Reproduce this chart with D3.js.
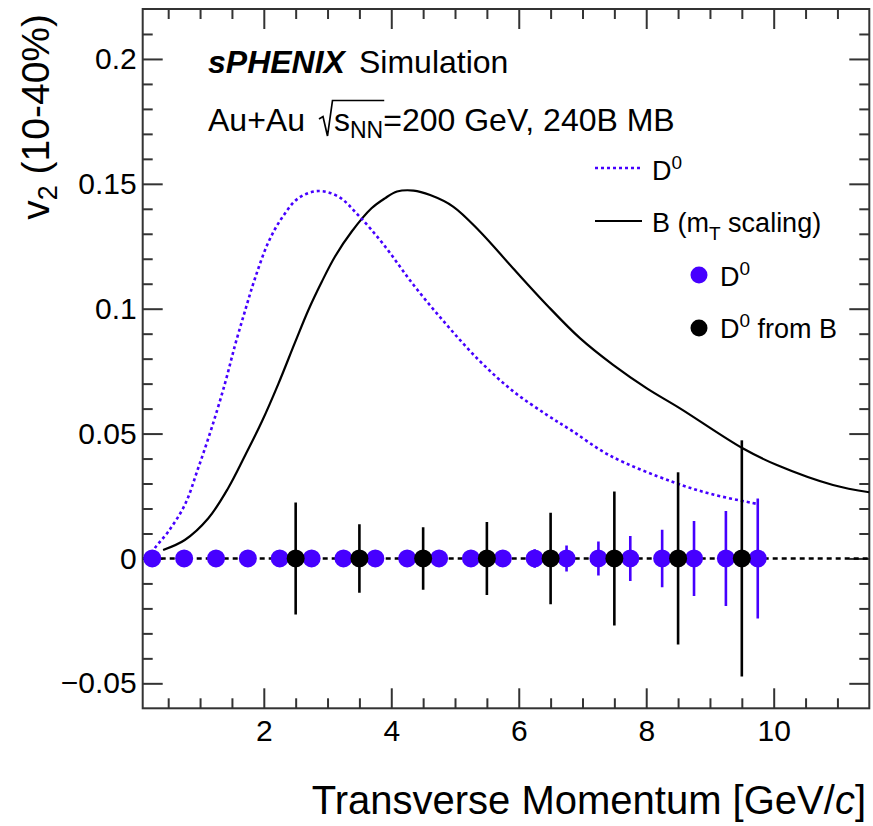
<!DOCTYPE html>
<html>
<head>
<meta charset="utf-8">
<script src="https://cdn.jsdelivr.net/npm/d3@7"></script>
<style>
body { margin: 0; background: #fff; }
svg text { font-family: "Liberation Sans", Arial, Helvetica, sans-serif; fill: #000; }
</style>
</head>
<body>
<div class="chart"></div>
<script>
const WIDTH = 873;
const HEIGHT = 826;
const LEFT = 142.7, RIGHT = 869.3, TOP = 9, BOTTOM = 708.3;
const BLUE = "#4600ff";

// axes
var xDomain = [0.1, 11.5];
var yDomain = [-0.06, 0.22];
var xTicks = [2, 4, 6, 8, 10];
var xTickLabels = ["2", "4", "6", "8", "10"];
var yTicks = [-0.05, 0, 0.05, 0.1, 0.15, 0.2];
var yTickLabels = ["\u22120.05", "0", "0.05", "0.1", "0.15", "0.2"];

// D0 model curve (dotted)
var d0CurveX = [0.25, 0.29, 0.50, 0.76, 0.97, 1.18, 1.39, 1.55, 1.71, 1.86, 2.07, 2.28, 2.54, 2.85,
	3.17, 3.48, 3.87, 4.35, 4.87, 5.39, 5.91, 6.44, 6.83, 7.43, 8.42, 9.05, 9.75];
var d0CurveY = [0.002, 0.0041, 0.0107, 0.0214, 0.0361, 0.0521, 0.0700, 0.0855, 0.0995, 0.1120, 0.1265, 0.1362, 0.1442, 0.1471,
	0.1449, 0.1375, 0.1260, 0.1095, 0.0935, 0.0790, 0.0670, 0.0575, 0.0512, 0.0412, 0.0306, 0.0256, 0.0218];

// B model curve (mT scaling, solid)
var bCurveX = [0.42, 0.76, 1.13, 1.44, 1.71, 1.97, 2.23, 2.49, 2.70, 2.91, 3.12, 3.38, 3.69, 3.90,
	4.09, 4.35, 4.61, 4.97, 5.39, 5.91, 6.44, 6.96, 7.48, 8.01, 8.53, 9.52, 10.05, 10.93, 11.5];
var bCurveY = [0.0034, 0.0074, 0.0161, 0.0281, 0.0414, 0.0548, 0.0700, 0.0865, 0.0995, 0.1108, 0.1210, 0.1309, 0.1402, 0.1442,
	0.1469, 0.1473, 0.1455, 0.1409, 0.1309, 0.1162, 0.1015, 0.0882, 0.0775, 0.0681, 0.0601, 0.0440, 0.0374, 0.0294, 0.0265];

// projected points
var d0PtX = [0.25, 0.75, 1.25, 1.75, 2.25, 2.75, 3.25, 3.75, 4.25, 4.75,
	5.25, 5.75, 6.25, 6.75, 7.25, 7.75, 8.25, 8.75, 9.25, 9.75];
var d0PtY = [0, 0, 0, 0, 0, 0, 0, 0, 0, 0, 0, 0, 0, 0, 0, 0, 0, 0, 0, 0];
var d0PtErr = [0.0004, 0.0005, 0.0006, 0.0007, 0.0008, 0.001, 0.0012, 0.0014, 0.0016, 0.0019,
	0.0023, 0.0028, 0.0037, 0.0052, 0.0068, 0.009, 0.0115, 0.015, 0.019, 0.024];
var bPtX = [2.5, 3.5, 4.5, 5.5, 6.5, 7.5, 8.5, 9.5];
var bPtY = [0, 0, 0, 0, 0, 0, 0, 0];
var bPtErr = [0.0224, 0.0137, 0.0125, 0.0146, 0.0183, 0.0268, 0.0345, 0.0473];

var x = d3.scaleLinear().domain(xDomain).range([LEFT, RIGHT]);
var y = d3.scaleLinear().domain(yDomain).range([BOTTOM, TOP]);

var svg = d3.select(".chart").append("svg")
	.attr("width", WIDTH)
	.attr("height", HEIGHT);

svg.append("defs").append("clipPath").attr("id", "clip")
	.append("rect")
	.attr("x", LEFT).attr("y", TOP)
	.attr("width", RIGHT - LEFT).attr("height", BOTTOM - TOP);

var xMinor = d3.range(0.5, 11.45, 0.5).filter(function(v){ return v % 2 !== 0; });
var yMinor = d3.range(-5, 22).map(function(v){ return v / 100; })
	.filter(function(v){ return Math.round(v * 100) % 5 !== 0; });

var styleAxis = function(g){
	g.select(".domain").remove();
	g.selectAll(".tick line").attr("stroke", "#333").attr("stroke-width", 2);
	g.selectAll("text").attr("font-family", null).attr("font-size", 30).attr("fill", "#000");
};

// bottom
svg.append("g").attr("transform", "translate(0," + BOTTOM + ")")
	.call(d3.axisBottom(x).tickValues(xTicks).tickSize(-20).tickPadding(11)
		.tickFormat(function(d, i){ return xTickLabels[i]; }))
	.call(styleAxis);
svg.append("g").attr("transform", "translate(0," + BOTTOM + ")")
	.call(d3.axisBottom(x).tickValues(xMinor).tickSize(-10).tickFormat(""))
	.call(styleAxis);
// top
svg.append("g").attr("transform", "translate(0," + TOP + ")")
	.call(d3.axisTop(x).tickValues(xTicks).tickSize(-20).tickFormat(""))
	.call(styleAxis);
svg.append("g").attr("transform", "translate(0," + TOP + ")")
	.call(d3.axisTop(x).tickValues(xMinor).tickSize(-10).tickFormat(""))
	.call(styleAxis);
// left
svg.append("g").attr("transform", "translate(" + LEFT + ",0)")
	.call(d3.axisLeft(y).tickValues(yTicks).tickSize(-20).tickPadding(6)
		.tickFormat(function(d, i){ return yTickLabels[i]; }))
	.call(styleAxis);
svg.append("g").attr("transform", "translate(" + LEFT + ",0)")
	.call(d3.axisLeft(y).tickValues(yMinor).tickSize(-10).tickFormat(""))
	.call(styleAxis);
// right
svg.append("g").attr("transform", "translate(" + RIGHT + ",0)")
	.call(d3.axisRight(y).tickValues(yTicks).tickSize(-20).tickFormat(""))
	.call(styleAxis);
svg.append("g").attr("transform", "translate(" + RIGHT + ",0)")
	.call(d3.axisRight(y).tickValues(yMinor).tickSize(-10).tickFormat(""))
	.call(styleAxis);

svg.append("rect")
	.attr("x", LEFT).attr("y", TOP)
	.attr("width", RIGHT - LEFT).attr("height", BOTTOM - TOP)
	.attr("fill", "none").attr("stroke", "#333").attr("stroke-width", 2);

var plot = svg.append("g").attr("clip-path", "url(#clip)");

// zero line
plot.append("line")
	.attr("x1", x(xDomain[0])).attr("x2", x(xDomain[1]))
	.attr("y1", y(0)).attr("y2", y(0))
	.attr("stroke", "#000").attr("stroke-width", 2.4)
	.attr("stroke-dasharray", "5,4");

var line = d3.line()
	.x(function(d){ return x(d[0]); })
	.y(function(d){ return y(d[1]); })
	.curve(d3.curveCatmullRom.alpha(0.5));

plot.append("path")
	.attr("d", line(d3.zip(bCurveX, bCurveY)))
	.attr("fill", "none").attr("stroke", "#000").attr("stroke-width", 2.2);

plot.append("path")
	.attr("d", line(d3.zip(d0CurveX, d0CurveY)))
	.attr("fill", "none").attr("stroke", BLUE).attr("stroke-width", 2.6)
	.attr("stroke-dasharray", "3,3");

var drawPoints = function(xs, ys, errs, color){
	var g = plot.append("g");
	g.selectAll("line").data(xs).enter().append("line")
		.attr("x1", function(d){ return x(d); })
		.attr("x2", function(d){ return x(d); })
		.attr("y1", function(d, i){ return y(ys[i] + errs[i]); })
		.attr("y2", function(d, i){ return y(ys[i] - errs[i]); })
		.attr("stroke", color).attr("stroke-width", 2.6);
	g.selectAll("circle").data(xs).enter().append("circle")
		.attr("cx", function(d){ return x(d); })
		.attr("cy", function(d, i){ return y(ys[i]); })
		.attr("r", 9)
		.attr("fill", color);
};

drawPoints(d0PtX, d0PtY, d0PtErr, BLUE);
drawPoints(bPtX, bPtY, bPtErr, "#000");

// labels
svg.append("text")
	.attr("x", 866).attr("y", 814)
	.attr("text-anchor", "end")
	.attr("font-size", 40)
	.text("Transverse Momentum [GeV/")
	.call(function(t){
		t.append("tspan").attr("font-style", "italic").text("c");
		t.append("tspan").text("]");
	});

var yt = svg.append("text")
	.attr("transform", "translate(49,14) rotate(-90)")
	.attr("text-anchor", "end")
	.attr("font-size", 39);
yt.append("tspan").text("v");
yt.append("tspan").attr("font-size", 27).attr("dy", 8).text("2");
yt.append("tspan").attr("dy", -8).text(" (10-40%)");

var t1 = svg.append("text").attr("x", 208).attr("y", 73).attr("font-size", 32);
t1.append("tspan").attr("font-weight", "bold").attr("font-style", "italic").text("sPHENIX");
t1.append("tspan").attr("x", 359).text("Simulation");

var t2 = svg.append("text").attr("x", 208).attr("y", 131).attr("font-size", 32);
t2.append("tspan").text("Au+Au");
t2.append("tspan").attr("x", 334).text("s");
t2.append("tspan").attr("font-size", 23).attr("dy", 7).text("NN");
t2.append("tspan").attr("dy", -7).text("=200 GeV, 240B MB");

// radical sign over s_NN
var n1 = t2.node();
var sEnd = n1.getEndPositionOfChar(7);
svg.append("path")
	.attr("d", "M319,119 L323,116.5 L327.5,136 L332.5,100.5 L" + (sEnd.x + 1) + ",100.5")
	.attr("fill", "none").attr("stroke", "#000").attr("stroke-width", 1.7)
	.attr("stroke-linejoin", "miter");

// legend
var legend = svg.append("g");
legend.append("line")
	.attr("x1", 595).attr("x2", 641).attr("y1", 168).attr("y2", 168)
	.attr("stroke", BLUE).attr("stroke-width", 2.6).attr("stroke-dasharray", "3,3");
legend.append("line")
	.attr("x1", 595).attr("x2", 642).attr("y1", 221).attr("y2", 221)
	.attr("stroke", "#000").attr("stroke-width", 2.2);
legend.append("circle").attr("cx", 699).attr("cy", 275).attr("r", 8.5).attr("fill", BLUE);
legend.append("circle").attr("cx", 699).attr("cy", 328).attr("r", 8.5).attr("fill", "#000");

var supText = function(xp, yp, base, sup, rest){
	var t = legend.append("text").attr("x", xp).attr("y", yp).attr("font-size", 27);
	t.append("tspan").text(base);
	t.append("tspan").attr("font-size", 19).attr("dy", -11).text(sup);
	if (rest) t.append("tspan").attr("dy", 11).text(rest);
};
supText(652, 180, "D", "0");
supText(720, 286, "D", "0");
supText(720, 338, "D", "0", " from B");

var lb = legend.append("text").attr("x", 652).attr("y", 232).attr("font-size", 27);
lb.append("tspan").text("B (m");
lb.append("tspan").attr("font-size", 19).attr("dy", 8).text("T");
lb.append("tspan").attr("dy", -8).text(" scaling)");
</script>
</body>
</html>
